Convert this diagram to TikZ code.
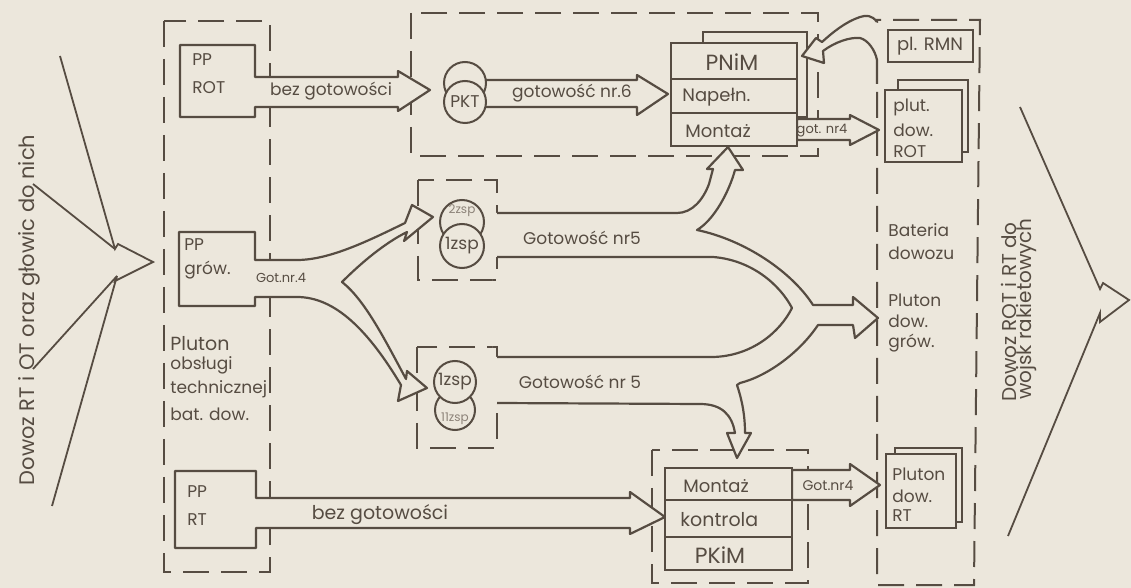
\documentclass[tikz,border=0pt]{standalone}
\usepackage{fontspec}
\setmainfont{Poppins}
\definecolor{ink}{RGB}{86,76,66}
\definecolor{paper}{RGB}{236,231,220}
\definecolor{faint}{RGB}{140,130,120}
\begin{document}
\begin{tikzpicture}[x=0.5pt,y=-0.5pt,
 dbox/.style={draw=ink,line width=1pt,dash pattern=on 13pt off 6pt},
 sbox/.style={draw=ink,line width=1.4pt,fill=paper},
 shade/.style={draw=ink,line width=1.3pt},
 flow/.style={draw=ink,line width=1.1pt,fill=paper,line join=round},
 fline/.style={draw=ink,line width=1.1pt,line join=round},
 edge/.style={draw=ink,line width=0.9pt},
 circ/.style={draw=ink,line width=1pt,fill=paper},
 lbl/.style={text=ink,inner sep=0pt,font=\fontsize{8.5}{10}\selectfont},
 lblL/.style={lbl,anchor=west},
 big/.style={lbl,font=\fontsize{11}{13}\selectfont},
 sml/.style={lbl,font=\fontsize{6.5}{8}\selectfont},
 fnt/.style={inner sep=0pt,text=faint,font=\fontsize{6}{7}\selectfont}
]
\fill[paper] (0,0) rectangle (1131,588);
\useasboundingbox (0,0) rectangle (1131,588);

% ---------- left incoming arrow ----------
\node[lbl,font=\fontsize{10.5}{12}\selectfont,rotate=90] (ltext) at (29,310) {Dowoz RT i OT oraz głowic do nich};
\coordinate (LA1) at (60,56);
\coordinate (LA2) at (52,506);
\coordinate (LU) at (115,249);
\coordinate (LD) at (117,276);
\coordinate (LT) at (153,262);
\coordinate (LN) at (33,184);
\coordinate (LO) at (33,369);
\draw[edge] (LA1) -- (LU) -- (118,244) -- (LT) -- (115,281) -- (LD) -- (LA2);
\draw[edge] (LN) -- (LU);
\draw[edge] (LO) -- (LD);

% ---------- right outgoing arrow ----------
\node[lbl,font=\fontsize{10}{12}\selectfont,rotate=90] (rt1) at (1009,312) {Dowoz ROT i RT do};
\node[lbl,font=\fontsize{10}{12}\selectfont,rotate=90] (rt2) at (1026,309) {wojsk rakietowych};
\coordinate (RA1) at (1020,107);
\coordinate (RA2) at (1008,536);
\coordinate (RU) at (1100,289);
\coordinate (RD) at (1100,313);
\coordinate (RT) at (1129,300);
\draw[edge] (RA1) -- (RU) -- (1103,283) -- (RT) -- (1100,322) -- (RD) -- (RA2);

% ---------- dashed groups ----------
\draw[dbox] (164,21) rectangle (270,572);
\draw[dbox] (411,13) rectangle (818,156);
\draw[dbox] (418,180) rectangle (497,280);
\draw[dbox] (417,347) rectangle (497,448);
\draw[dbox] (652,450) rectangle (808,583);
\draw[dbox] (877,92) -- (877,585) -- (974,585) -- (980,20) -- (877,20) -- (877,23);

% ---------- shadows of double boxes ----------
\draw[shade] (703,43) -- (703,32) -- (807,32) -- (807,117) -- (797,117);
\draw[shade] (898,90) -- (898,80) -- (968,80) -- (968,152) -- (962,152);
\draw[shade] (895,454) -- (895,448) -- (962,448) -- (962,522) -- (956,522);

% ---------- PP ROT with arrow ----------
\filldraw[flow] (255,77) -- (255,45) -- (180,45) -- (180,117) -- (255,117) -- (255,107)
  -- (398,107) -- (398,111) -- (430,90) -- (398,71) -- (398,77) -- cycle;
% gotowosc nr.6
\filldraw[flow] (483,80) -- (637,80) -- (637,75) -- (668,94) -- (637,115) -- (637,107) -- (483,107) -- cycle;
% got. nr4 (top)
\filldraw[flow] (797,119) -- (850,119) -- (850,115) -- (879,130) -- (850,145) -- (850,140) -- (797,140) -- cycle;

% curved ribbon into PNiM
\fill[paper] (877,22) .. controls (872,15) and (866,15) .. (860,17)
  .. controls (845,22) and (832,33) .. (822,42) -- (816,38) -- (802,56) -- (824,63) -- (823,51)
  .. controls (835,42) and (850,37) .. (860,38) .. controls (868,40) and (875,50) .. (877,60) -- cycle;
\draw[fline] (877,22) .. controls (872,15) and (866,15) .. (860,17)
  .. controls (845,22) and (832,33) .. (822,42) -- (816,38) -- (802,56) -- (824,63) -- (823,51)
  .. controls (835,42) and (850,37) .. (860,38) .. controls (868,40) and (875,50) .. (877,60) -- (877,84);

% PP grow. with split arrow
\filldraw[flow] (255,260) -- (255,232) -- (179,232) -- (179,306) -- (255,306) -- (255,297) -- (297,297)
  .. controls (335,297) and (368,330) .. (401,385)
  -- (398,401) -- (427,388) -- (407,371) -- (406,379)
  .. controls (385,340) and (365,300) .. (342,282)
  .. controls (362,262) and (385,243) .. (407,232)
  -- (404,241) -- (433,217) -- (412,205) -- (405,223)
  .. controls (370,240) and (330,260) .. (297,260) -- cycle;

% Gotowosc nr5 combined flow
\fill[paper,even odd rule] (492,213) -- (677,213)
  .. controls (692,213) and (703,200) .. (709,184) -- (713,169) -- (707,169) -- (728,147) -- (743,170) -- (735,170)
  .. controls (729,192) and (714,220) .. (697,230)
  .. controls (745,240) and (792,272) .. (813,305) -- (853,305) -- (853,297) -- (878,318) -- (855,338) -- (853,325) -- (818,325)
  .. controls (800,352) and (768,376) .. (740,383) -- (737,385)
  .. controls (742,400) and (745,415) .. (745,433) -- (751,433) -- (737,458) -- (727,433) -- (735,433)
  .. controls (732,415) and (722,404) .. (700,404) -- (492,403) -- cycle
  (492,257) -- (713,257) .. controls (752,260) and (780,285) .. (792,308)
  .. controls (780,332) and (752,356) .. (713,357) -- (492,357) -- cycle;
\draw[fline] (497,213) -- (677,213)
  .. controls (692,213) and (703,200) .. (709,184) -- (713,169) -- (707,169) -- (728,147) -- (743,170) -- (735,170)
  .. controls (729,192) and (714,220) .. (697,230)
  .. controls (745,240) and (792,272) .. (813,305) -- (853,305) -- (853,297) -- (878,318) -- (855,338) -- (853,325) -- (818,325)
  .. controls (800,352) and (768,376) .. (740,383) -- (737,385)
  .. controls (742,400) and (745,415) .. (745,433) -- (751,433) -- (737,458) -- (727,433) -- (735,433)
  .. controls (732,415) and (722,404) .. (700,404) -- (497,403);
\draw[fline] (497,257) -- (713,257) .. controls (752,260) and (780,285) .. (792,308)
  .. controls (780,332) and (752,356) .. (713,357) -- (497,357);

% Got.nr4 (bottom)
\filldraw[flow] (792,470) -- (850,470) -- (850,464) -- (880,485) -- (850,506) -- (850,500) -- (792,500) -- cycle;

% PP RT with arrow
\filldraw[flow] (256,498) -- (256,471) -- (175,471) -- (175,548) -- (256,548) -- (256,528)
  -- (630,528) -- (630,534) -- (665,517) -- (630,492) -- (630,498) -- cycle;

% ---------- solid boxes ----------
\draw[sbox] (671,43) rectangle (797,146);
\draw[shade] (671,79) -- (797,79);
\draw[shade] (671,113) -- (797,113);
\draw[sbox] (665,468) rectangle (792,570);
\draw[shade] (665,500) -- (792,500);
\draw[shade] (665,537) -- (792,537);
\draw[sbox] (888,30) rectangle (973,62);
\draw[sbox] (885,90) rectangle (962,162);
\draw[sbox] (886,454) rectangle (956,528);

% ---------- circles ----------
\coordinate (pktB) at (465,83);
\coordinate (pktF) at (465,102);
\draw[circ] (pktB) circle[radius=21];
\draw[circ] (pktF) circle[radius=21];
\coordinate (zuB) at (462,222);
\coordinate (zuF) at (462,246);
\draw[circ] (zuB) circle[radius=22];
\draw[circ] (zuF) circle[radius=22];
\coordinate (zlB) at (455,410);
\coordinate (zlF) at (455,382);
\draw[circ] (zlB) circle[radius=20];
\draw[circ] (zlF) circle[radius=21];

% ---------- texts ----------
\node[lblL] (tpp1) at (192,60) {PP};
\node[lblL] (tpp2) at (192,88) {ROT};
\node[lbl] (tbez1) at (331,91) {bez gotowości};
\node[lbl] (tpkt) at (pktF) {PKT};
\node[lbl] (tg6) at (572,93) {gotowość nr.6};
\node[big] (tpnim) at (732,62) {PNiM};
\node[lblL,font=\fontsize{9}{10}\selectfont] (tnap) at (682,97) {Napełn.};
\node[lblL,font=\fontsize{9}{10}\selectfont] (tmon1) at (685,131) {Montaż};
\node[sml] (tg4a) at (822,131) {got. nr4};
\node[lbl,font=\fontsize{9}{10}\selectfont] (trmn) at (930,46) {pl. RMN};
\node[lblL] (tplut1) at (893,107) {plut.};
\node[lblL] (tplut2) at (893,130) {dow.};
\node[lblL] (tplut3) at (893,152) {ROT};

\node[lblL] (tgr1) at (184,245) {PP};
\node[lblL] (tgr2) at (184,270) {grów.};
\node[sml] (tg4b) at (281,278) {Got.nr.4};
\node[fnt] (tz2) at (462,211) {2zsp};
\node[lbl] (tz1) at (zuF) {1zsp};
\node[lbl] (tz3) at (zlF) {1zsp};
\node[fnt] (tz4) at (455,419) {11zsp};
\node[lbl] (tg5a) at (582,238) {Gotowość nr5};
\node[lbl] (tg5b) at (580,382) {Gotowość nr 5};

\node[lblL,font=\fontsize{9.5}{11}\selectfont] (tpl1) at (170,344) {Pluton};
\node[lblL] (tpl2) at (170,365) {obsługi};
\node[lblL] (tpl3) at (170,389) {technicznej};
\node[lblL] (tpl4) at (170,414) {bat. dow.};

\node[lblL] (tbat1) at (888,230) {Bateria};
\node[lblL] (tbat2) at (888,253) {dowozu};
\node[lblL] (tbat3) at (888,300) {Pluton};
\node[lblL] (tbat4) at (888,321) {dow.};
\node[lblL] (tbat5) at (888,343) {grów.};

\node[lblL] (trt1) at (187,492) {PP};
\node[lblL] (trt2) at (187,520) {RT};
\node[lbl,font=\fontsize{9.5}{11}\selectfont] (tbez2) at (380,515) {bez gotowości};
\node[lblL,font=\fontsize{9}{10}\selectfont] (tmon2) at (683,486) {Montaż};
\node[lblL,font=\fontsize{9.5}{11}\selectfont] (tkon) at (680,520) {kontrola};
\node[big] (tpkim) at (720,555) {PKiM};
\node[sml,font=\fontsize{7}{8}\selectfont] (tg4c) at (828,486) {Got.nr4};
\node[lblL] (tpr1) at (892,474) {Pluton};
\node[lblL] (tpr2) at (892,496) {dow.};
\node[lblL] (tpr3) at (892,516) {RT};
\end{tikzpicture}
\end{document}
